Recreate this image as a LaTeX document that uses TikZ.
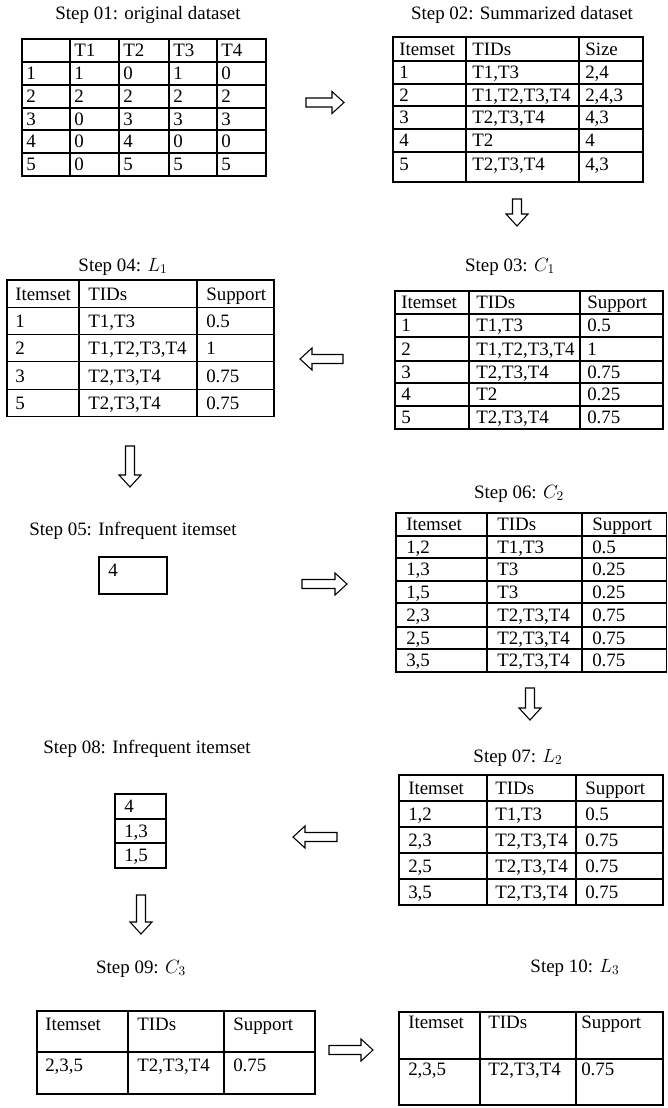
\documentclass[tikz,border=0pt]{standalone}
\usepackage{fontspec}
\setmainfont{Liberation Serif}

\tikzset{
  steptitle/.style={anchor=base, inner sep=0pt},
  cell/.style={anchor=base west, inner sep=0pt},
  rule/.style={line width=0.8pt},
  pics/blockarrow/.style={code={
    \draw[rule] (0,-4.5) -- ({#1-12},-4.5) -- ({#1-12},-11) -- (#1,0)
      -- ({#1-12},11) -- ({#1-12},4.5) -- (0,4.5) -- cycle;}}
}

\begin{document}
\begin{tikzpicture}[x=0.75pt,y=-0.75pt,font=\fontsize{14.2}{17}\selectfont]
\useasboundingbox (0,0) rectangle (668,1108);

% Step 01: original dataset
\node[steptitle] (t01) at (148,19) {Step 01: original dataset};
\draw[rule] (22,39) rectangle (266,176);
\foreach \x in {70,119,169,217} \draw[rule] (\x,39) -- (\x,176);
\foreach \y in {62,85,108,130,153} \draw[rule] (22,\y) -- (266,\y);
\foreach \x/\t [count=\j] in {74/T1,123/T2,173/T3,221/T4}
  \node[cell] (d0-\j) at (\x,56.5) {\t};
\foreach \y/\a/\b/\c/\d/\e [count=\i] in {79.5/1/1/0/1/0,102.5/2/2/2/2/2,
    125/3/0/3/3/3,147.5/4/0/4/0/0,170.5/5/0/5/5/5} {
  \node[cell] (d\i-0) at (26,\y) {\a};
  \node[cell] (d\i-1) at (74,\y) {\b};
  \node[cell] (d\i-2) at (123,\y) {\c};
  \node[cell] (d\i-3) at (173,\y) {\d};
  \node[cell] (d\i-4) at (221,\y) {\e};
}

% Step 02: Summarized dataset
\node[steptitle] (t02) at (522,19) {Step 02: Summarized dataset};
\draw[rule] (393,37) rectangle (643,182);
\foreach \x in {466,579} \draw[rule] (\x,37) -- (\x,182);
\foreach \y in {61,84,106,129,152} \draw[rule] (393,\y) -- (643,\y);
\foreach \y/\a/\b/\c [count=\i from 0] in {55/Itemset/TIDs/Size,
    78.5/1/{T1,T3}/{2,4},101/2/{T1,T2,T3,T4}/{2,4,3},123.5/3/{T2,T3,T4}/{4,3},
    146.5/4/T2/4,170/5/{T2,T3,T4}/{4,3}} {
  \node[cell] (s\i-1) at (399,\y) {\a};
  \node[cell] (s\i-2) at (472,\y) {\b};
  \node[cell] (s\i-3) at (585,\y) {\c};
}

% Step 03: C1
\node[steptitle] (t03) at (510,271) {Step 03: $C_1$};
\draw[rule] (395,291) rectangle (663,429);
\foreach \x in {469,580} \draw[rule] (\x,291) -- (\x,429);
\foreach \y in {314,337,361,383,406} \draw[rule] (395,\y) -- (663,\y);
\foreach \y/\a/\b/\c [count=\i from 0] in {308.5/Itemset/TIDs/Support,
    331.5/1/{T1,T3}/0.5,355/2/{T1,T2,T3,T4}/1,378/3/{T2,T3,T4}/0.75,
    400.5/4/T2/0.25,423.5/5/{T2,T3,T4}/0.75} {
  \node[cell] (ca\i-1) at (401,\y) {\a};
  \node[cell] (ca\i-2) at (476,\y) {\b};
  \node[cell] (ca\i-3) at (587,\y) {\c};
}

% Step 04: L1
\node[steptitle] (t04) at (123,271) {Step 04: $L_1$};
\draw[rule] (7,280) rectangle (274,416.5);
\foreach \x in {79,197} \draw[rule] (\x,280) -- (\x,416.5);
\foreach \y in {307.3,334.6,361.9,389.2} \draw[rule] (7,\y) -- (274,\y);
\foreach \y/\a/\b/\c [count=\i from 0] in {300/Itemset/TIDs/Support,
    327.5/1/{T1,T3}/0.5,354.5/2/{T1,T2,T3,T4}/1,382/3/{T2,T3,T4}/0.75,
    409/5/{T2,T3,T4}/0.75} {
  \node[cell] (la\i-1) at (15,\y) {\a};
  \node[cell] (la\i-2) at (88,\y) {\b};
  \node[cell] (la\i-3) at (206,\y) {\c};
}

% Step 05: Infrequent itemset
\node[steptitle] (t05) at (133,535) {Step 05: Infrequent itemset};
\draw[rule] (99,557) rectangle (167,594);
\node[cell] (inf5) at (108,576) {4};

% Step 06: C2
\node[steptitle] (t06) at (519,498) {Step 06: $C_2$};
\draw[rule] (396,513) rectangle (666.5,672);
\foreach \x in {487,582} \draw[rule] (\x,513) -- (\x,672);
\foreach \y in {536,558,581,603,627,649} \draw[rule] (396,\y) -- (666.5,\y);
\foreach \y/\a/\b/\c [count=\i from 0] in {530.5/Itemset/TIDs/Support,
    553/{1,2}/{T1,T3}/0.5,575.5/{1,3}/T3/0.25,598/{1,5}/T3/0.25,
    621/{2,3}/{T2,T3,T4}/0.75,644/{2,5}/{T2,T3,T4}/0.75,666.5/{3,5}/{T2,T3,T4}/0.75} {
  \node[cell] (cb\i-1) at (406,\y) {\a};
  \node[cell] (cb\i-2) at (497,\y) {\b};
  \node[cell] (cb\i-3) at (592,\y) {\c};
}

% Step 07: L2
\node[steptitle] (t07) at (518,762) {Step 07: $L_2$};
\draw[rule] (399,775) rectangle (663,905);
\foreach \x in {487,576} \draw[rule] (\x,775) -- (\x,905);
\foreach \y in {801,827,853,879} \draw[rule] (399,\y) -- (663,\y);
\foreach \y/\a/\b/\c [count=\i from 0] in {794/Itemset/TIDs/Support,
    820/{1,2}/{T1,T3}/0.5,846/{2,3}/{T2,T3,T4}/0.75,
    872/{2,5}/{T2,T3,T4}/0.75,898/{3,5}/{T2,T3,T4}/0.75} {
  \node[cell] (lb\i-1) at (408,\y) {\a};
  \node[cell] (lb\i-2) at (495,\y) {\b};
  \node[cell] (lb\i-3) at (585,\y) {\c};
}

% Step 08: Infrequent itemset
\node[steptitle] (t08) at (147,753) {Step 08: Infrequent itemset};
\draw[rule] (115,794) rectangle (166,868);
\foreach \y in {819,843} \draw[rule] (115,\y) -- (166,\y);
\foreach \y/\a [count=\i] in {812.5/4,837/{1,3},861.5/{1,5}}
  \node[cell] (inf8-\i) at (124,\y) {\a};

% Step 09: C3
\node[steptitle] (t09) at (141,973) {Step 09: $C_3$};
\draw[rule] (37,1011) rectangle (315,1094);
\foreach \x in {128,224} \draw[rule] (\x,1011) -- (\x,1094);
\draw[rule] (37,1052) -- (315,1052);
\foreach \y/\a/\b/\c [count=\i from 0] in {1030/Itemset/TIDs/Support,
    1071/{2,3,5}/{T2,T3,T4}/0.75} {
  \node[cell] (cc\i-1) at (45,\y) {\a};
  \node[cell] (cc\i-2) at (137,\y) {\b};
  \node[cell] (cc\i-3) at (233,\y) {\c};
}

% Step 10: L3
\node[steptitle] (t10) at (575,972) {Step 10: $L_3$};
\draw[rule] (399,1012) rectangle (663,1105);
\foreach \x in {480,576} \draw[rule] (\x,1012) -- (\x,1105);
\draw[rule] (399,1059) -- (663,1059);
\foreach \y/\a/\b/\c [count=\i from 0] in {1028/Itemset/TIDs/Support,
    1075/{2,3,5}/{T2,T3,T4}/0.75} {
  \node[cell] (lc\i-1) at (408,\y) {\a};
  \node[cell] (lc\i-2) at (488,\y) {\b};
  \node[cell] (lc\i-3) at (581,\y) {\c};
}

% block arrows between the steps
\pic at (306,102.5) {blockarrow=38};
\pic[rotate=-90] at (517,199) {blockarrow=27};
\pic[rotate=180] at (343,359) {blockarrow=43};
\pic[rotate=-90] at (130,446) {blockarrow=41};
\pic at (302,584) {blockarrow=45};
\pic[rotate=-90] at (530,688) {blockarrow=32};
\pic[rotate=180] at (337,837) {blockarrow=44};
\pic[rotate=-90] at (141,895) {blockarrow=39};
\pic at (329,1050) {blockarrow=44};

\end{tikzpicture}
\end{document}
